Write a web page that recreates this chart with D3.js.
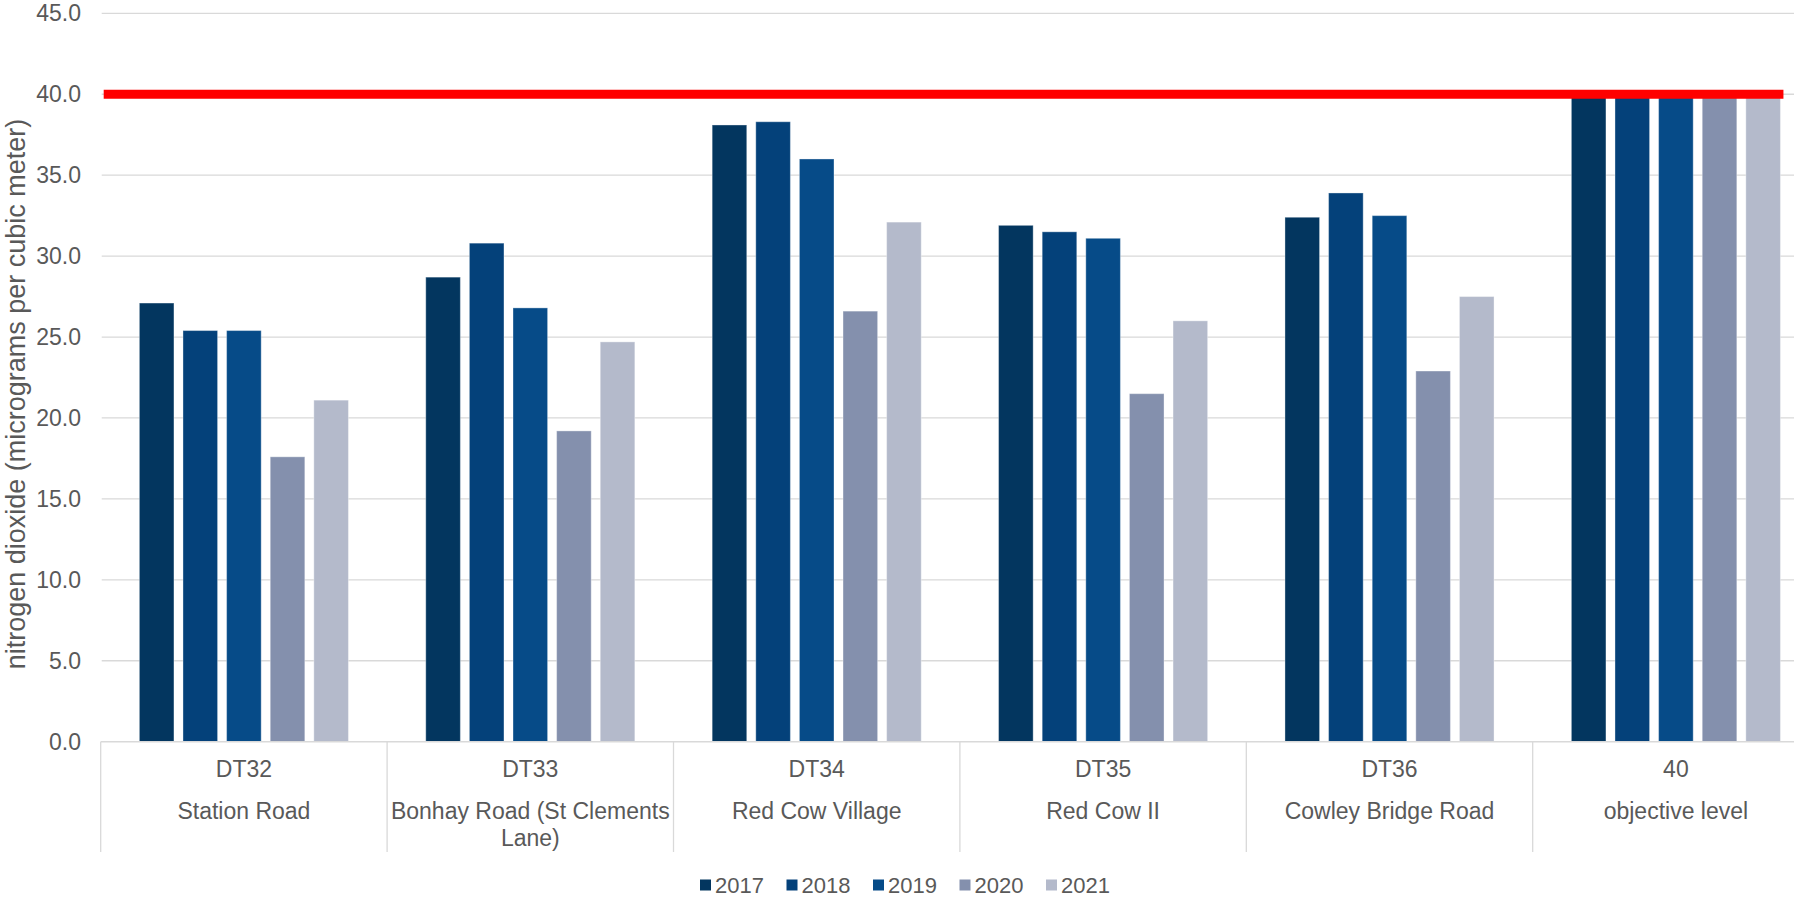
<!DOCTYPE html>
<html>
<head>
<meta charset="utf-8">
<script src="https://cdn.jsdelivr.net/npm/d3@7/dist/d3.min.js"></script>
<style>
html,body{margin:0;padding:0;background:#fff;}
svg{display:block;font-family:"Liberation Sans",Arial,sans-serif;}
</style>
</head>
<body>
<svg id="chart" width="1794" height="901"></svg>
<script>
const codes = ["DT32","DT33","DT34","DT35","DT36","40"];
const names = [["Station Road"],["Bonhay Road (St Clements","Lane)"],["Red Cow Village"],["Red Cow II"],["Cowley Bridge Road"],["objective level"]];
const years = ["2017","2018","2019","2020","2021"];
const colors = ["#03365f","#04417a","#064b88","#8490ad","#b4bacb"];
const v2017 = [27.1,28.7,38.1,31.9,32.4,40];
const v2018 = [25.4,30.8,38.3,31.5,33.9,40];
const v2019 = [25.4,26.8,36.0,31.1,32.5,40];
const v2020 = [17.6,19.2,26.6,21.5,22.9,40];
const v2021 = [21.1,24.7,32.1,26.0,27.5,40];
const yTicks = [0,5,10,15,20,25,30,35,40,45];
const objective = 40;
const seriesValues = [v2017,v2018,v2019,v2020,v2021];

const svg = d3.select("#chart");
const textColor = "#595959";
const left = 100.7, step = 286.4;
const x0 = d3.scaleBand().domain(codes).range([left, left + step*codes.length]).paddingInner(0.27).paddingOuter(0.135);
const x1 = d3.scaleBand().domain(years).range([0, x0.bandwidth()]).paddingInner(0.207);
const y = d3.scaleLinear().domain([0,45]).range([741.7, 13.3]);
const color = d3.scaleOrdinal().domain(years).range(colors);

// gridlines
svg.append("g").selectAll("line").data(yTicks.filter(d=>d>0)).join("line")
  .attr("x1", left+1).attr("x2", left + step*codes.length)
  .attr("y1", d=>y(d)).attr("y2", d=>y(d))
  .attr("stroke", "#d9d9d9").attr("stroke-width", 1.3);

// tick labels
svg.append("g").selectAll("text").data(yTicks).join("text")
  .attr("x", 81).attr("y", d=>y(d)).attr("dy","0.35em")
  .attr("text-anchor","end").attr("fill",textColor).attr("font-size",23)
  .text(d=>d3.format(".1f")(d));

// bars
const groups = svg.append("g").selectAll("g").data(codes).join("g")
  .attr("transform", d=>`translate(${x0(d)},0)`);
groups.selectAll("rect").data((d,i)=>years.map((yr,j)=>({yr, v: seriesValues[j][i]}))).join("rect")
  .attr("x", d=>x1(d.yr)).attr("width", x1.bandwidth())
  .attr("y", d=>y(d.v)).attr("height", d=>y(0)-y(d.v))
  .attr("fill", d=>color(d.yr))
  .attr("stroke","#ffffff").attr("stroke-opacity",0.35).attr("stroke-width",1);

// baseline axis
svg.append("line").attr("x1", left).attr("x2", left + step*codes.length)
  .attr("y1", y(0)).attr("y2", y(0)).attr("stroke","#d9d9d9").attr("stroke-width",1.5);

// category separators
const seps = d3.range(codes.length+1).map(i=> left + i*x0.step());
svg.append("g").selectAll("line").data(seps).join("line")
  .attr("x1", d=>d).attr("x2", d=>d).attr("y1", y(0)).attr("y2", 852)
  .attr("stroke","#d9d9d9").attr("stroke-width",1.3);

// category labels
const cx = d => x0(d) + x0.bandwidth()/2;
svg.append("g").selectAll("text").data(codes).join("text")
  .attr("x", cx).attr("y", 777).attr("text-anchor","middle")
  .attr("fill",textColor).attr("font-size",23).text(d=>d);
const nameG = svg.append("g").selectAll("text").data(codes).join("text")
  .attr("x", cx).attr("y", 819).attr("text-anchor","middle")
  .attr("fill",textColor).attr("font-size",23);
nameG.selectAll("tspan").data((d,i)=>names[i]).join("tspan")
  .attr("x", function(){ return d3.select(this.parentNode).attr("x"); })
  .attr("dy", (d,i)=> i===0 ? 0 : 27).text(d=>d);

// objective line
const lastCode = codes[codes.length-1], lastYear = years[years.length-1];
svg.append("line")
  .attr("x1", left + 3).attr("x2", x0(lastCode) + x1(lastYear) + x1.bandwidth() + 3)
  .attr("y1", y(objective)).attr("y2", y(objective))
  .attr("stroke","#ff0000").attr("stroke-width",9);

// y title
svg.append("text").attr("transform", `translate(25,394) rotate(-90)`)
  .attr("text-anchor","middle").attr("fill",textColor).attr("font-size",27)
  .text("nitrogen dioxide (micrograms per cubic meter)");

// legend
const itemW = 86.5;
const legendStart = 700;
const lg = svg.append("g").selectAll("g").data(years).join("g")
  .attr("transform",(d,i)=>`translate(${legendStart + i*itemW},885)`);
lg.append("rect").attr("x",0).attr("y",-5.5).attr("width",11).attr("height",11).attr("fill",d=>color(d));
lg.append("text").attr("x",15).attr("dy","0.35em").attr("fill",textColor).attr("font-size",22).text(d=>d);
</script>
</body>
</html>
